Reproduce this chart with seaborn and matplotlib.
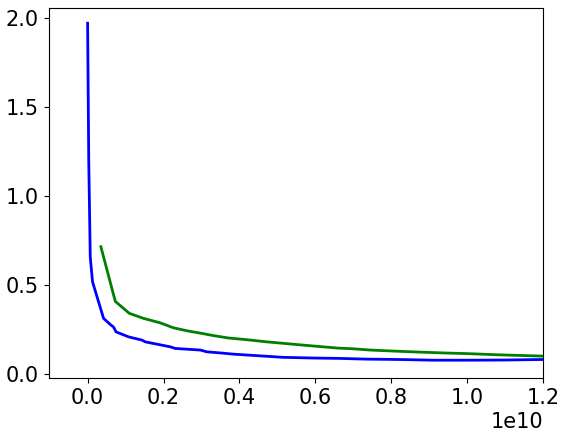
import numpy as np
import pandas as pd
import matplotlib
matplotlib.use('Agg')
import matplotlib.pyplot as plt
import seaborn as sns

# data (x in units of 1e10)
blue_x = [0.0, 0.003, 0.007, 0.013, 0.042, 0.060, 0.068, 0.075, 0.108, 0.143, 0.152,
          0.218, 0.231, 0.297, 0.314, 0.349, 0.384, 0.45, 0.516, 0.6, 0.665, 0.735,
          0.82, 0.911, 1.0, 1.1, 1.2]
blue_y = [1.972, 1.2, 0.659, 0.52, 0.315, 0.28, 0.267, 0.239, 0.211, 0.193, 0.183,
          0.155, 0.146, 0.137, 0.127, 0.121, 0.114, 0.105, 0.096, 0.092, 0.09, 0.086,
          0.084, 0.08, 0.08, 0.081, 0.084]

green_x = [0.035, 0.073, 0.11, 0.147, 0.191, 0.226, 0.262, 0.297, 0.332, 0.37, 0.42,
           0.472, 0.54, 0.604, 0.66, 0.7, 0.744, 0.82, 0.893, 0.95, 1.0, 1.086, 1.15, 1.2]
green_y = [0.717, 0.41, 0.343, 0.315, 0.29, 0.262, 0.245, 0.232, 0.218, 0.205, 0.195,
           0.183, 0.17, 0.158, 0.148, 0.144, 0.137, 0.13, 0.124, 0.12, 0.117, 0.11,
           0.106, 0.103]

plt.rcParams['font.size'] = 15

df_blue = pd.DataFrame({'x': np.array(blue_x) * 1e10, 'y': blue_y})
df_green = pd.DataFrame({'x': np.array(green_x) * 1e10, 'y': green_y})

fig, ax = plt.subplots(figsize=(5.64, 4.36), dpi=100)
sns.lineplot(data=df_blue, x='x', y='y', color='blue', lw=2, sort=False, estimator=None, ax=ax)
sns.lineplot(data=df_green, x='x', y='y', color='green', lw=2, sort=False, estimator=None, ax=ax)

ax.set_xlim(-0.103e10, 1.2e10)
ax.set_ylim(-0.02, 2.056)
ax.set_xlabel('')
ax.set_ylabel('')
ax.set_xticks([0, 0.2e10, 0.4e10, 0.6e10, 0.8e10, 1.0e10, 1.2e10])
ax.set_yticks([0.0, 0.5, 1.0, 1.5, 2.0])

fig.subplots_adjust(left=0.086, right=0.963, top=0.981, bottom=0.133)
fig.savefig('out.png')
